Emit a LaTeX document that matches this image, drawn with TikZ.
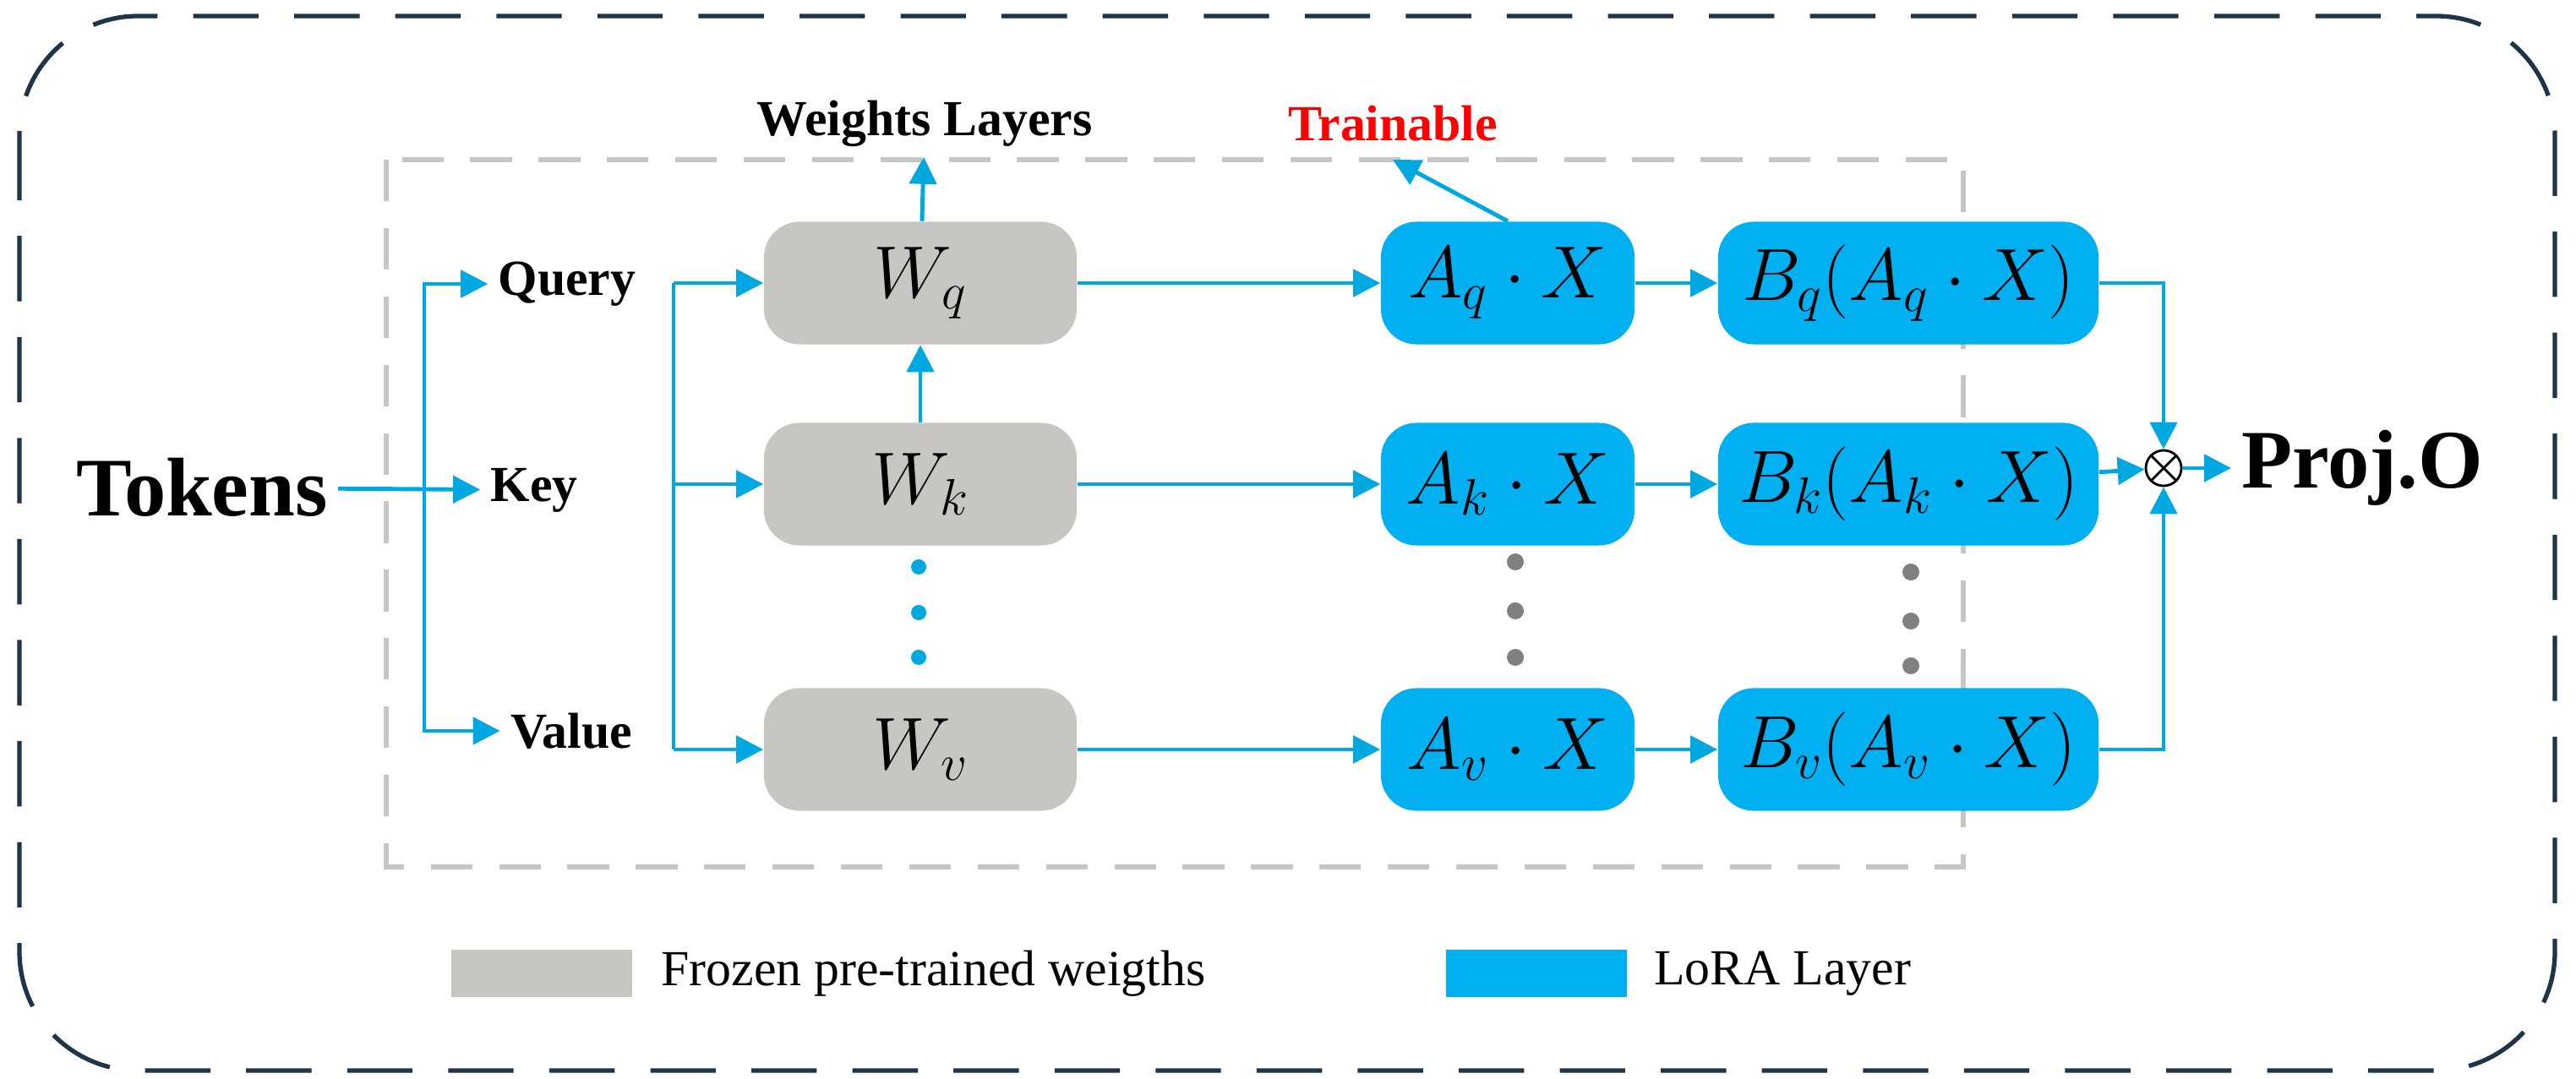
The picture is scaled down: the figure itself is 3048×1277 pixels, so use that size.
\documentclass[tikz,border=0pt]{standalone}
\usepackage{fontspec}
\setmainfont{Liberation Serif}
\usetikzlibrary{arrows.meta}
\usetikzlibrary{positioning}
\definecolor{lora}{RGB}{0,176,240}
\definecolor{flow}{RGB}{0,168,225}
\definecolor{frozen}{RGB}{200,198,194}
\definecolor{frame}{RGB}{31,52,70}
\tikzset{
    wbox/.style={
        rounded corners=12pt,
        fill=frozen,
        minimum width=3.7cm,
        minimum height=1.45cm,
        font=\fontsize{24}{28}\selectfont
    },
    abox/.style={
        wbox,
        fill=lora,
        minimum width=3.0cm
    },
    bbox/.style={
        wbox,
        fill=lora,
        minimum width=4.5cm
    },
    lbl/.style={font=\bfseries\fontsize{17}{20}\selectfont},
    big/.style={font=\bfseries\fontsize{28}{32}\selectfont},
    flowarr/.style={
        draw=flow,
        line width=1.4pt,
        -{Triangle[length=3.2mm, width=3.2mm]}
    },
    dotw/.style={circle, fill=flow, inner sep=0pt, minimum size=0.18cm},
    dotg/.style={circle, fill=gray, inner sep=0pt, minimum size=0.2cm}
}

\begin{document}
\begin{tikzpicture}[x=0.01cm, y=-0.01cm]
    \useasboundingbox (0,0) rectangle (3048,1277);
    \draw[frame, line width=1.5pt, dash pattern=on 22pt off 12pt, rounded corners=40pt] (23,19) rectangle (3023,1267);
    \draw[gray!45, line width=1.5pt, dash pattern=on 14pt off 9pt] (457,189) rectangle (2323,1026);

    \node[wbox] (Wq) at (1089,335) {$W_q$};
    \node[wbox] (Wk) at (1089,573) {$W_k$};
    \node[wbox] (Wv) at (1089,887) {$W_v$};
    \node[abox] (Aq) at (1784,335) {$A_q\cdot X$};
    \node[abox] (Ak) at (1784,573) {$A_k\cdot X$};
    \node[abox] (Av) at (1784,887) {$A_v\cdot X$};
    \node[bbox] (Bq) at (2258,335) {$B_q(A_q\cdot X)$};
    \node[bbox] (Bk) at (2258,573) {$B_k(A_k\cdot X)$};
    \node[bbox] (Bv) at (2258,887) {$B_v(A_v\cdot X)$};

    \node[big] (tok) at (239,577) {Tokens};
    \node[lbl] (query) at (671,336) {Query};
    \node[lbl] (key) at (632,580) {Key};
    \node[lbl] (value) at (676,865) {Value};
    \node[lbl] (wl) at (1094,146) {Weights Layers};
    \node[lbl, text=red] (tr) at (1648,146) {Trainable};
    \node[circle, draw, inner sep=0pt, minimum size=0.42cm, line width=0.8pt] (prod) at (2560,554) {};
    \draw[line width=0.8pt] (prod.north west) -- (prod.south east) (prod.north east) -- (prod.south west);
    \node[big, anchor=west] (proj) at (2640,554) {Proj.O};

    \foreach \y in {671,725,778} \node[dotw] at (1087,\y) {};
    \foreach \y in {665,723,778} \node[dotg] at (1793,\y) {};
    \foreach \y in {677,735,788} \node[dotg] at (2261,\y) {};

    % input split
    \coordinate (s1) at (502,577);
    \draw[flowarr] (tok) -- (key);
    \draw[flowarr] (s1) |- (query);
    \draw[flowarr] (s1) |- (value);
    \coordinate (s2) at (797,573);
    \draw[flowarr] (s2 |- Wq) -- (Wq);
    \draw[flowarr] (s2) -- (Wk);
    \draw[flowarr] (s2 |- Wv) -- (Wv);
    \draw[flow, line width=1.4pt] (s2 |- Wq) -- (s2 |- Wv);

    % rows
    \draw[flowarr] (Wk) -- (Wq);
    \draw[flowarr] (Wq) -- (wl);
    \draw[flowarr] (Aq.north) -- (1648,189);
    \foreach \r in {q,k,v} {
        \draw[flowarr] (W\r) -- (A\r);
        \draw[flowarr] (A\r) -- (B\r);
    }
    \draw[flowarr] (Bq) -| (prod);
    \draw[flowarr] (Bk) -- (prod);
    \draw[flowarr] (Bv) -| (prod);
    \draw[flowarr] (prod) -- (proj);

    % legend
    \node[fill=frozen, minimum width=2.13cm, minimum height=0.56cm] (lgw) at (641,1152) {};
    \node[anchor=west, font=\fontsize{17}{20}\selectfont] (lgwt) at (770,1152) {Frozen pre-trained weigths};
    \node[fill=lora, minimum width=2.14cm, minimum height=0.56cm] (lga) at (1818,1152) {};
    \node[anchor=west, font=\fontsize{17}{20}\selectfont] (lgat) at (1945,1152) {LoRA Layer};
\end{tikzpicture}
\end{document}
